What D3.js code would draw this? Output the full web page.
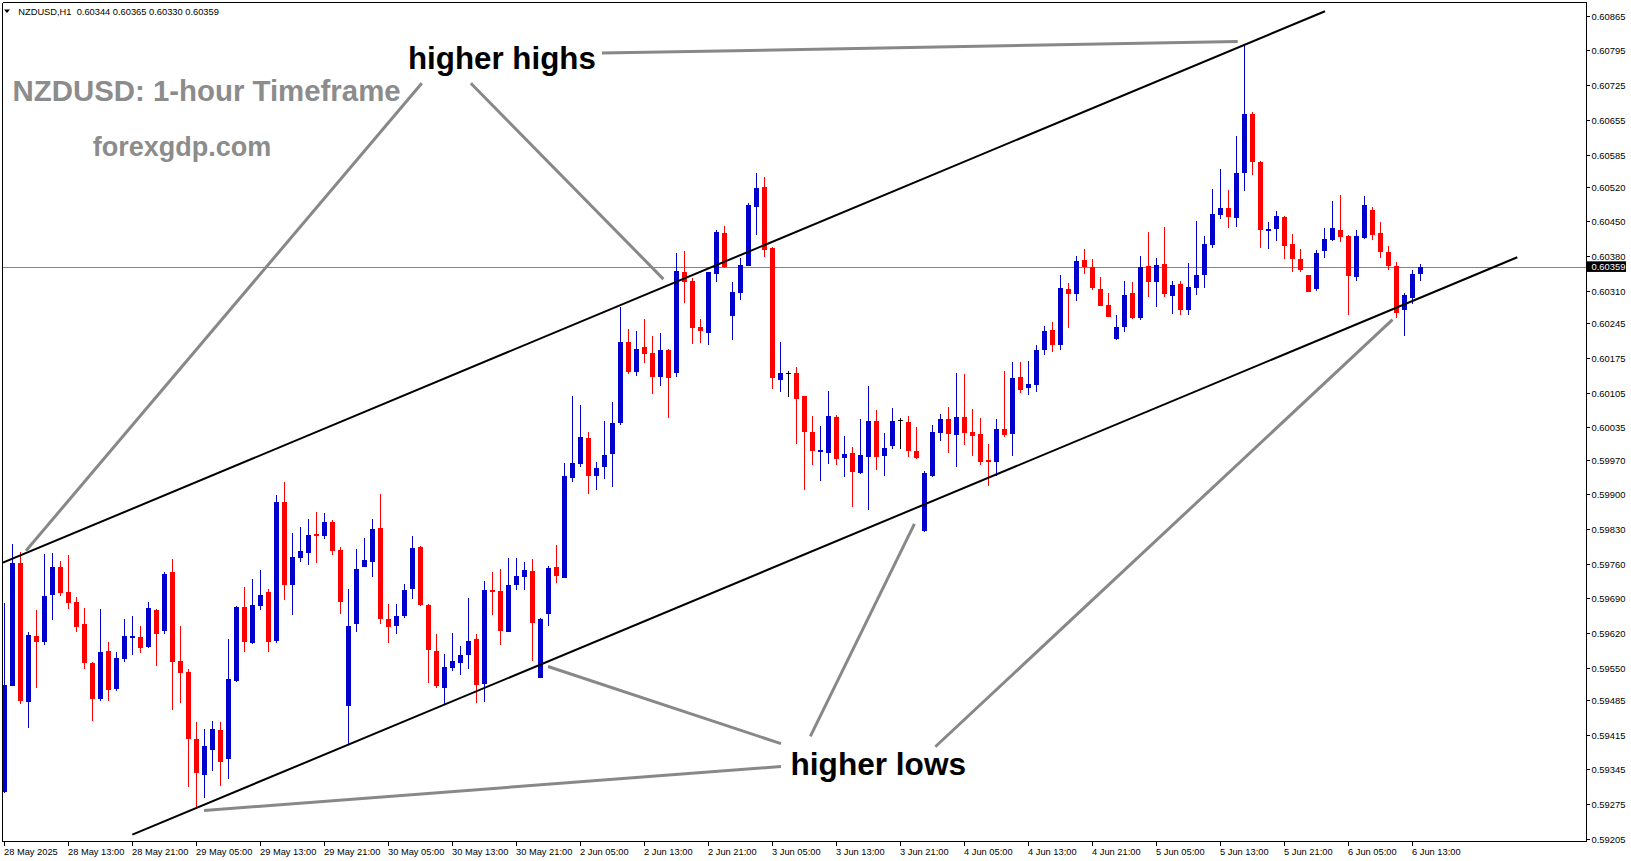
<!DOCTYPE html>
<html><head><meta charset="utf-8">
<script src="https://cdn.jsdelivr.net/npm/d3@7/dist/d3.min.js"></script>
<style>html,body{margin:0;padding:0;background:#fff;overflow:hidden}</style>
</head><body>
<svg id="chart" width="1631" height="861"></svg>
<script>
const headerText = "NZDUSD,H1  0.60344 0.60365 0.60330 0.60359";
const opens = [
0.59299,0.59514,0.59762,0.59482,0.59614,0.59603,0.59697,0.59753,0.59703,0.59683,
0.59638,0.59560,0.59488,0.59584,0.59507,0.59568,0.59611,0.59612,0.59591,0.59667,
0.59624,0.59743,0.59564,0.59542,0.59406,0.59334,0.59384,0.59425,0.59367,0.59524,
0.59673,0.59601,0.59675,0.59703,0.59604,0.59884,0.59717,0.59772,0.59782,0.59820,
0.59816,0.59844,0.59788,0.59472,0.59639,0.59754,0.59764,0.59832,0.59648,0.59635,
0.59655,0.59708,0.59794,0.59677,0.59584,0.59510,0.59550,0.59560,0.59576,0.59608,
0.59518,0.59706,0.59705,0.59623,0.59718,0.59734,0.59745,0.59530,0.59659,0.59753,
0.59732,0.59933,0.59962,0.60013,0.59937,0.59954,0.59982,0.60044,0.60207,0.60147,
0.60197,0.60185,0.60137,0.60191,0.60145,0.60348,0.60330,0.60237,0.60226,0.60345,
0.60427,0.60260,0.60306,0.60361,0.60480,0.60520,0.60397,0.60131,0.60145,0.60145,
0.60098,0.60026,0.59986,0.59984,0.60056,0.59974,0.59983,0.59942,0.59975,0.60048,
0.59978,0.59997,0.60049,0.60046,0.59987,0.59826,0.59937,0.60024,0.60052,0.60020,
0.60056,0.60026,0.60021,0.59969,0.59966,0.60032,0.60022,0.60136,0.60115,0.60121,
0.60191,0.60231,0.60201,0.60314,0.60304,0.60372,0.60358,0.60314,0.60282,0.60214,
0.60238,0.60306,0.60256,0.60360,0.60327,0.60364,0.60300,0.60324,0.60272,0.60316,
0.60343,0.60403,0.60464,0.60477,0.60458,0.60548,0.60667,0.60570,0.60430,0.60434,
0.60459,0.60405,0.60374,0.60342,0.60314,0.60391,0.60413,0.60433,0.60421,0.60339,
0.60417,0.60473,0.60427,0.60388,0.60360,0.60272,0.60296,0.60344];
const highs = [
0.59680,0.59800,0.59784,0.59622,0.59667,0.59779,0.59782,0.59765,0.59777,0.59693,
0.59671,0.59561,0.59669,0.59602,0.59582,0.59648,0.59654,0.59634,0.59683,0.59668,
0.59743,0.59770,0.59634,0.59548,0.59440,0.59426,0.59443,0.59441,0.59608,0.59675,
0.59713,0.59729,0.59747,0.59708,0.59898,0.59925,0.59822,0.59834,0.59850,0.59864,
0.59863,0.59848,0.59793,0.59708,0.59790,0.59812,0.59850,0.59900,0.59679,0.59679,
0.59719,0.59815,0.59795,0.59679,0.59618,0.59578,0.59620,0.59594,0.59691,0.59618,
0.59725,0.59743,0.59749,0.59772,0.59772,0.59764,0.59770,0.59650,0.59755,0.59798,
0.59964,0.60098,0.60080,0.60026,0.59965,0.60048,0.60086,0.60277,0.60233,0.60229,
0.60253,0.60219,0.60225,0.60193,0.60387,0.60391,0.60336,0.60253,0.60349,0.60433,
0.60441,0.60328,0.60376,0.60488,0.60548,0.60540,0.60399,0.60207,0.60149,0.60157,
0.60099,0.60058,0.60038,0.60108,0.60059,0.60018,0.59995,0.60051,0.60118,0.60070,
0.60024,0.60074,0.60053,0.60058,0.60036,0.59947,0.60040,0.60062,0.60076,0.60145,
0.60142,0.60072,0.60054,0.60001,0.60052,0.60149,0.60167,0.60167,0.60169,0.60201,
0.60239,0.60247,0.60342,0.60326,0.60380,0.60395,0.60374,0.60338,0.60306,0.60262,
0.60330,0.60328,0.60380,0.60429,0.60376,0.60439,0.60330,0.60330,0.60366,0.60451,
0.60421,0.60516,0.60556,0.60514,0.60622,0.60806,0.60671,0.60572,0.60449,0.60471,
0.60461,0.60425,0.60395,0.60343,0.60393,0.60437,0.60491,0.60503,0.60423,0.60433,
0.60501,0.60479,0.60449,0.60401,0.60368,0.60306,0.60352,0.60365];
const lows = [
0.59297,0.59513,0.59477,0.59429,0.59510,0.59596,0.59646,0.59695,0.59669,0.59623,
0.59548,0.59443,0.59484,0.59484,0.59504,0.59562,0.59576,0.59580,0.59589,0.59554,
0.59618,0.59464,0.59480,0.59310,0.59265,0.59288,0.59342,0.59312,0.59326,0.59522,
0.59582,0.59599,0.59667,0.59582,0.59601,0.59687,0.59656,0.59763,0.59757,0.59762,
0.59810,0.59777,0.59659,0.59394,0.59623,0.59753,0.59734,0.59638,0.59601,0.59619,
0.59651,0.59689,0.59675,0.59520,0.59510,0.59475,0.59543,0.59536,0.59548,0.59480,
0.59482,0.59657,0.59597,0.59622,0.59706,0.59706,0.59564,0.59529,0.59635,0.59722,
0.59731,0.59925,0.59955,0.59901,0.59909,0.59931,0.59915,0.60040,0.60143,0.60139,
0.60165,0.60103,0.60119,0.60054,0.60137,0.60286,0.60202,0.60204,0.60200,0.60327,
0.60356,0.60212,0.60292,0.60360,0.60423,0.60379,0.60113,0.60107,0.60097,0.60002,
0.59909,0.59958,0.59927,0.59962,0.59958,0.59935,0.59875,0.59941,0.59868,0.59949,
0.59937,0.59992,0.59991,0.59975,0.59971,0.59824,0.59935,0.60008,0.59983,0.59955,
0.60000,0.59978,0.59959,0.59917,0.59937,0.60016,0.59978,0.60105,0.60101,0.60106,
0.60181,0.60187,0.60190,0.60236,0.60290,0.60345,0.60312,0.60279,0.60257,0.60211,
0.60228,0.60253,0.60252,0.60298,0.60278,0.60298,0.60264,0.60262,0.60262,0.60302,
0.60316,0.60397,0.60456,0.60436,0.60438,0.60512,0.60544,0.60397,0.60395,0.60411,
0.60375,0.60349,0.60349,0.60307,0.60310,0.60377,0.60411,0.60409,0.60262,0.60331,
0.60415,0.60413,0.60376,0.60352,0.60255,0.60219,0.60284,0.60330];
const closes = [
0.59515,0.59762,0.59484,0.59616,0.59603,0.59695,0.59753,0.59701,0.59681,0.59633,
0.59560,0.59488,0.59582,0.59505,0.59570,0.59614,0.59614,0.59589,0.59671,0.59618,
0.59739,0.59562,0.59540,0.59407,0.59338,0.59392,0.59426,0.59360,0.59527,0.59673,
0.59602,0.59677,0.59697,0.59602,0.59884,0.59716,0.59773,0.59786,0.59818,0.59816,
0.59844,0.59786,0.59683,0.59634,0.59749,0.59767,0.59830,0.59649,0.59633,0.59655,
0.59707,0.59792,0.59677,0.59585,0.59513,0.59552,0.59564,0.59576,0.59604,0.59516,
0.59707,0.59703,0.59625,0.59717,0.59735,0.59747,0.59641,0.59648,0.59751,0.59736,
0.59937,0.59963,0.60015,0.59937,0.59953,0.59979,0.60044,0.60207,0.60147,0.60193,
0.60183,0.60137,0.60191,0.60135,0.60350,0.60329,0.60236,0.60230,0.60348,0.60429,
0.60358,0.60308,0.60362,0.60483,0.60518,0.60393,0.60135,0.60145,0.60145,0.60093,
0.60026,0.59988,0.59989,0.60058,0.59972,0.59981,0.59944,0.59979,0.60048,0.59975,
0.59993,0.60048,0.60049,0.59988,0.59973,0.59943,0.60026,0.60052,0.60022,0.60056,
0.60024,0.60018,0.59966,0.59966,0.60032,0.60020,0.60134,0.60111,0.60122,0.60191,
0.60229,0.60201,0.60316,0.60304,0.60370,0.60359,0.60316,0.60280,0.60258,0.60237,
0.60302,0.60256,0.60359,0.60329,0.60362,0.60304,0.60322,0.60272,0.60318,0.60342,
0.60405,0.60465,0.60477,0.60460,0.60548,0.60667,0.60569,0.60432,0.60435,0.60461,
0.60401,0.60375,0.60353,0.60308,0.60386,0.60415,0.60437,0.60419,0.60341,0.60421,
0.60483,0.60423,0.60388,0.60360,0.60265,0.60302,0.60344,0.60359];
const timeLabels = ["28 May 2025","28 May 13:00","28 May 21:00","29 May 05:00","29 May 13:00","29 May 21:00",
"30 May 05:00","30 May 13:00","30 May 21:00","2 Jun 05:00","2 Jun 13:00","2 Jun 21:00","3 Jun 05:00",
"3 Jun 13:00","3 Jun 21:00","4 Jun 05:00","4 Jun 13:00","4 Jun 21:00","5 Jun 05:00","5 Jun 13:00",
"5 Jun 21:00","6 Jun 05:00","6 Jun 13:00"];
const timeLabelBars = [0,8,16,24,32,40,48,56,64,72,80,88,96,104,112,120,128,136,144,152,160,168,176];
const priceTicks = [0.60865,0.60795,0.60725,0.60655,0.60585,0.60520,0.60450,0.60380,0.60310,0.60245,
0.60175,0.60105,0.60035,0.59970,0.59900,0.59830,0.59760,0.59690,0.59620,0.59550,0.59485,0.59415,
0.59345,0.59275,0.59205];
const lastPrice = 0.60359;
// channel lines: [bar index, price]
const upperChannel = [[-0.09, 0.59762],[165.16, 0.60874]];
const lowerChannel = [[16.08, 0.592135],[189.2, 0.60378]];
// grey pointer lines: [bar index, price]
const pointerLines = [
 [[74.79, 0.607896],[154.25, 0.60813]],
 [[52.26, 0.607287],[2.79, 0.59786]],
 [[58.39, 0.607287],[82.46, 0.603339]],
 [[97.16, 0.593972],[68.04, 0.595527]],
 [[97.16, 0.59351],[25.04, 0.592623]],
 [[100.83, 0.594119],[113.84, 0.598403]],
 [[116.45, 0.593908],[173.6, 0.60252]]
];
const annotations = [
 {text:"higher highs", x:408, y:68.5, size:31.3, color:"#000"},
 {text:"higher lows", x:790.5, y:775, size:31.6, color:"#000"},
 {text:"NZDUSD: 1-hour Timeframe", x:12.5, y:101, size:29.4, color:"#8c8c8c"},
 {text:"forexgdp.com", x:92.7, y:155.5, size:27, color:"#8c8c8c"}
];

const W = 1631, H = 861;
const L = 3, T = 2.5, R = 1586, B = 841.5;
const svg = d3.select("#chart");
svg.append("rect").attr("width",W).attr("height",H).attr("fill","#fff");

const x = d3.scaleLinear().domain([0, (R - 3.7) / 8]).range([3.7, R]);
const y = d3.scaleLinear().domain([0.59205, 0.60865]).range([838.9, 15.7]);

svg.append("clipPath").attr("id","plot").append("rect")
  .attr("x",L).attr("y",T).attr("width",R-L).attr("height",B-T);
const plot = svg.append("g").attr("clip-path","url(#plot)");

const FONT = "'Liberation Sans', Arial, sans-serif";

// bid line
plot.append("line").attr("x1",L).attr("x2",R)
  .attr("y1",Math.round(y(lastPrice))+0.5).attr("y2",Math.round(y(lastPrice))+0.5)
  .attr("stroke","#778899").attr("stroke-width",1);

// candles
const bars = opens.map((o,i)=>({i, o, h:highs[i], l:lows[i], c:closes[i]}));
const colorOf = d => d.c > d.o ? "#0000cc" : (d.c < d.o ? "#ff0000" : "#000000");
const cg = plot.append("g").attr("shape-rendering","crispEdges");
cg.selectAll("line.wick").data(bars).join("line").attr("class","wick")
  .attr("x1",d=>Math.round(x(d.i))+0.5).attr("x2",d=>Math.round(x(d.i))+0.5)
  .attr("y1",d=>y(d.h)).attr("y2",d=>y(d.l))
  .attr("stroke",colorOf).attr("stroke-width",1);
cg.selectAll("rect.body").data(bars.filter(d=>d.o!==d.c)).join("rect").attr("class","body")
  .attr("x",d=>Math.round(x(d.i))-2).attr("width",5)
  .attr("y",d=>y(Math.max(d.o,d.c)))
  .attr("height",d=>Math.max(1, y(Math.min(d.o,d.c)) - y(Math.max(d.o,d.c))))
  .attr("fill",colorOf);
cg.selectAll("line.doji").data(bars.filter(d=>d.o===d.c)).join("line").attr("class","doji")
  .attr("x1",d=>Math.round(x(d.i))-2).attr("x2",d=>Math.round(x(d.i))+3)
  .attr("y1",d=>Math.round(y(d.o))+0.5).attr("y2",d=>Math.round(y(d.o))+0.5)
  .attr("stroke","#000").attr("stroke-width",1);

// channel lines
const lineGen = d3.line().x(d=>x(d[0])).y(d=>y(d[1]));
[upperChannel, lowerChannel].forEach(c=>{
  plot.append("path").attr("d",lineGen(c)).attr("fill","none")
    .attr("stroke","#000").attr("stroke-width",2);
});
// grey pointer lines
pointerLines.forEach(p=>{
  plot.append("path").attr("d",lineGen(p)).attr("fill","none")
    .attr("stroke","#888888").attr("stroke-width",3);
});

// annotation texts
annotations.forEach(a=>{
  svg.append("text").attr("x",a.x).attr("y",a.y).text(a.text)
    .attr("font-family",FONT).attr("font-weight","bold")
    .attr("font-size",a.size).attr("fill",a.color);
});

// frame
const fg = svg.append("g").attr("stroke","#000").attr("stroke-width",1).attr("shape-rendering","crispEdges");
fg.append("line").attr("x1",L).attr("x2",R+0.5).attr("y1",T).attr("y2",T);
fg.append("line").attr("x1",L).attr("x2",R+0.5).attr("y1",B).attr("y2",B);
fg.append("line").attr("x1",L-0.5).attr("x2",L-0.5).attr("y1",T).attr("y2",B);
fg.append("line").attr("x1",R+0.5).attr("x2",R+0.5).attr("y1",T).attr("y2",B);

// price axis
const fmt = d3.format(".5f");
const pa = svg.append("g");
priceTicks.forEach(p=>{
  const yy = Math.round(y(p))+0.5;
  pa.append("line").attr("x1",R+0.5).attr("x2",R+4).attr("y1",yy).attr("y2",yy)
    .attr("stroke","#000").attr("shape-rendering","crispEdges");
  pa.append("text").attr("x",R+5.5).attr("y",yy+3.5).text(fmt(p))
    .attr("font-family",FONT).attr("font-size",9.4).attr("fill","#000");
});
// bid label
const by = y(lastPrice);
pa.append("rect").attr("x",R+1).attr("y",by-5.3).attr("width",39).attr("height",10.6).attr("fill","#000");
pa.append("text").attr("x",R+5.5).attr("y",by+3.4).text(fmt(lastPrice))
  .attr("font-family",FONT).attr("font-size",9.4).attr("fill","#fff");

// time axis
const ta = svg.append("g");
timeLabelBars.forEach((b,k)=>{
  const xx = Math.round(x(b))+0.5;
  ta.append("line").attr("x1",xx).attr("x2",xx).attr("y1",B).attr("y2",B+4)
    .attr("stroke","#000").attr("shape-rendering","crispEdges");
  ta.append("text").attr("x",xx-0.5).attr("y",855).text(timeLabels[k])
    .attr("font-family",FONT).attr("font-size",9.3).attr("fill","#000");
});

// header
svg.append("path").attr("d","M4,9.5 L10,9.5 L7,13 Z").attr("fill","#000");
svg.append("text").attr("x",18.3).attr("y",15).text(headerText)
  .attr("font-family",FONT).attr("font-size",9.3).attr("fill","#000")
  .attr("xml:space","preserve").style("white-space","pre");
</script>
</body></html>
